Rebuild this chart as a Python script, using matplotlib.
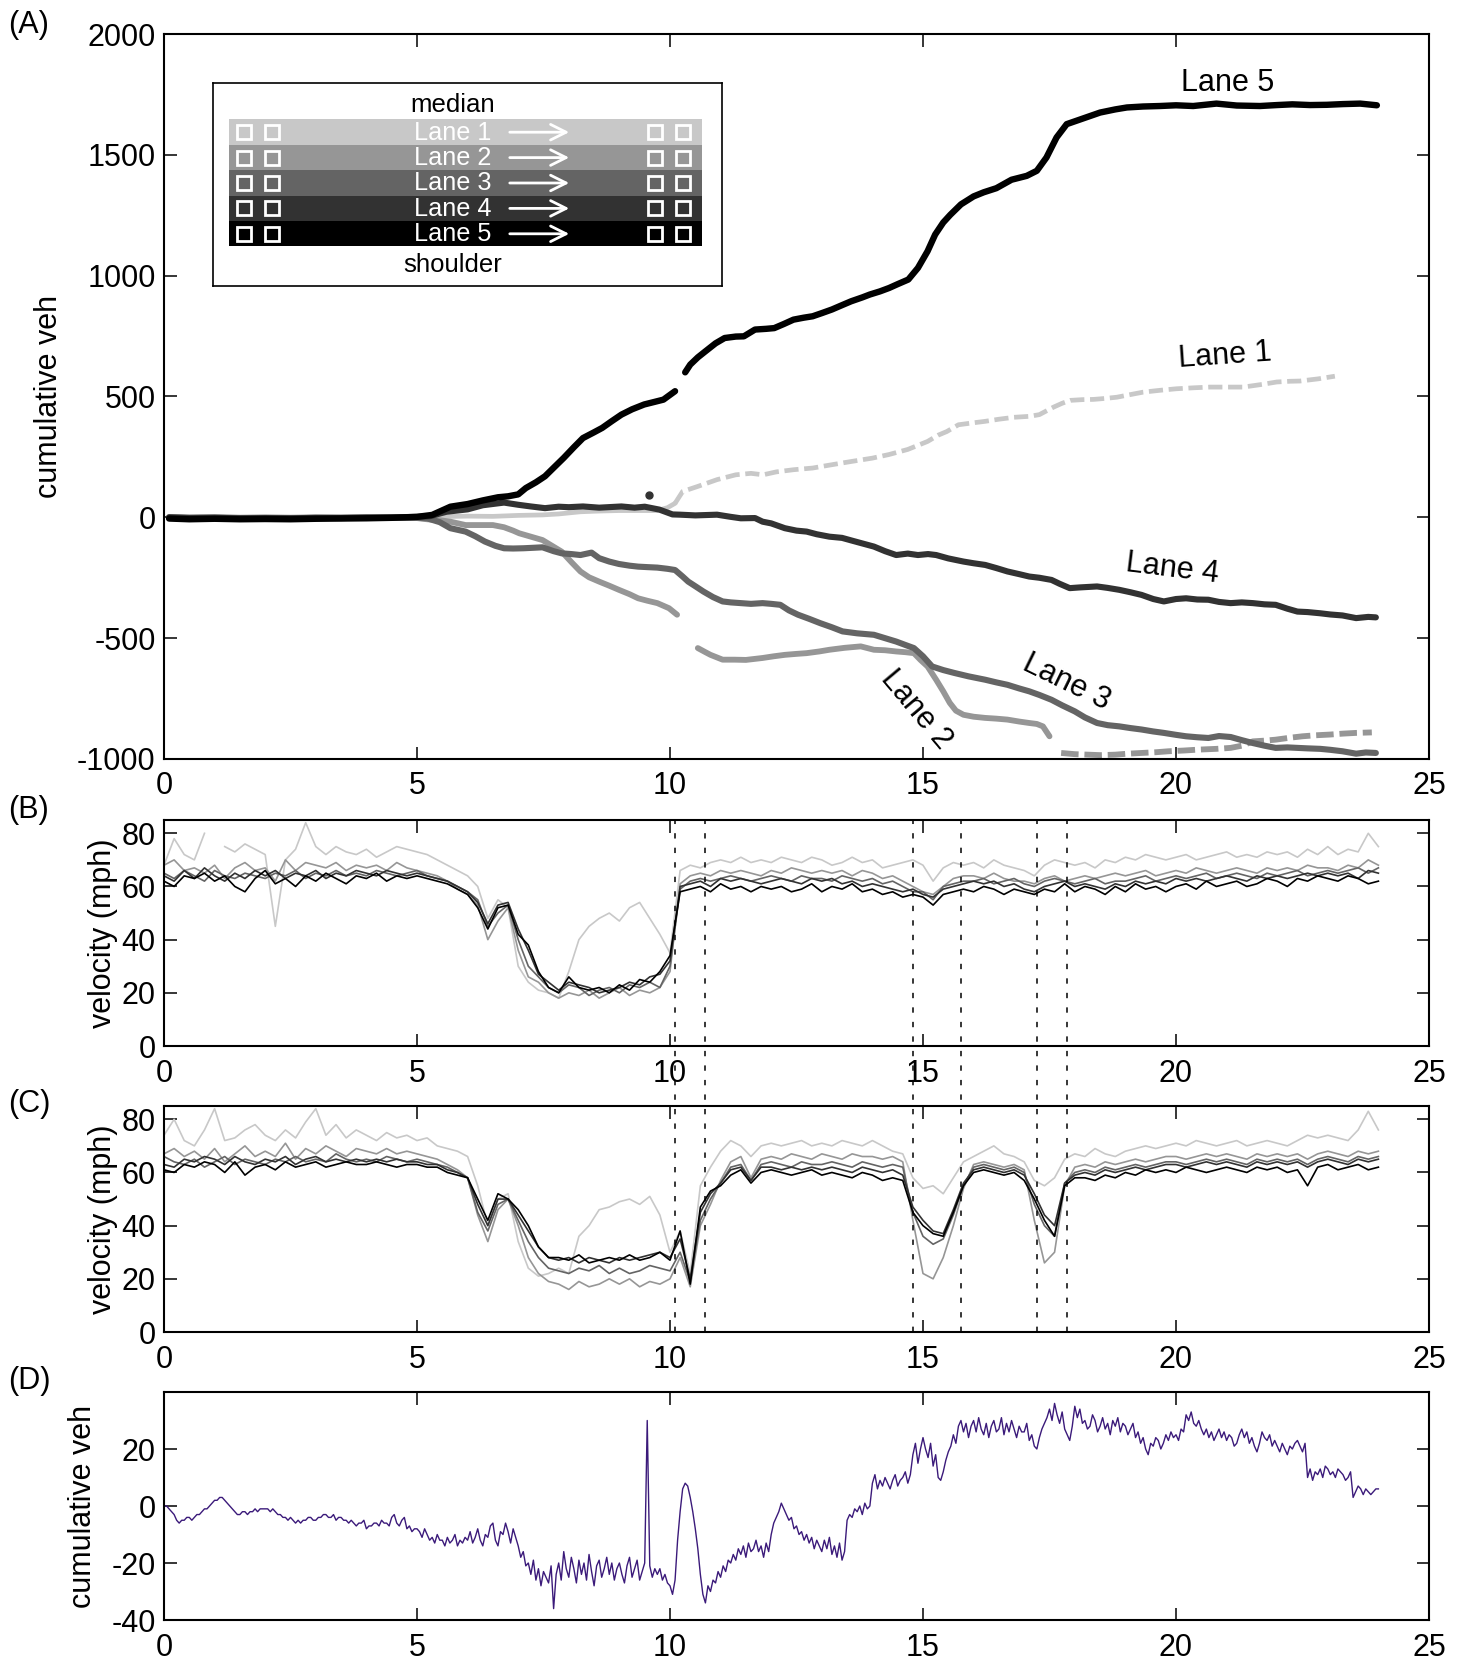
import numpy as np
import matplotlib
matplotlib.use('Agg')
import matplotlib.pyplot as plt
from matplotlib.patches import Rectangle
from matplotlib.transforms import blended_transform_factory
from matplotlib.lines import Line2D

plt.rcParams['font.family'] = ['Liberation Sans', 'DejaVu Sans']
plt.rcParams['font.size'] = 22
plt.rcParams['axes.unicode_minus'] = False

nan = float('nan')

lane_names = ['Lane 1', 'Lane 2', 'Lane 3', 'Lane 4', 'Lane 5']
lane_colors = ['#c8c8c8', '#969696', '#646464', '#323232', '#000000']

# ---------------- Panel A: cumulative vehicles (hour, count) ----------------
cumA_lane1 = [(0.1,0),(0.5,1),(1,0),(1.5,1),(2,0),(2.5,1),(3,0),(3.5,1),(4,0),(4.5,1),(5.0,2),(5.5,3),(6.0,5),(6.5,4),(7.0,8),(7.48,10),(7.8,14),(8.23,23),(8.6,26),(8.99,28),(9.4,28),(9.75,28),(9.95,40),(10.1,58),
              (10.25,107),(10.55,128),(10.93,156),(11.3,176),(11.6,182),(11.84,176),(12.1,188),(12.44,197),(12.82,204),(13.15,216),(13.58,231),(14.0,245),(14.33,260),(14.7,281),(15.09,314),(15.3,340),(15.47,355),(15.7,383),(15.95,390),(16.22,397),(16.5,406),(16.8,414),(17.11,418),(17.3,425),(17.58,456),(17.75,472),(17.91,484),(18.15,487),(18.37,488),(18.6,492),(18.83,497),(19.1,508),(19.35,518),(19.7,526),(20.01,532),(20.35,536),(20.67,539),(21.0,539),(21.33,539),(21.7,550),(21.99,560),(22.25,563),(22.45,564),(22.81,573),(23.14,584)]
cumA_lane2 = [(0.1,0),(0.5,-1),(1,0),(1.5,-2),(2,-1),(2.5,-2),(3,-1),(3.5,-1),(4,0),(4.5,-1),(5.0,-3),(5.2,-8),(5.45,-12),(5.66,-18),(5.96,-32),(6.2,-32),(6.5,-32),(6.72,-41),(6.9,-55),(7.02,-66),(7.25,-80),(7.48,-94),(7.67,-118),(7.86,-142),(8.05,-185),(8.23,-224),(8.4,-248),(8.6,-266),(8.8,-283),(8.99,-300),(9.2,-318),(9.37,-335),(9.55,-345),(9.75,-355),(9.98,-376),(10.14,-403),(10.35,nan),
              (10.55,-541),(10.7,-558),(10.8,-569),(11.04,-589),(11.27,-589),(11.5,-590),(11.83,-582),(12.05,-575),(12.27,-569),(12.5,-565),(12.7,-562),(12.95,-555),(13.15,-548),(13.45,-540),(13.77,-534),(14.03,-548),(14.25,-550),(14.47,-555),(14.65,-558),(14.82,-562),(14.95,-590),(15.09,-617),(15.26,-672),(15.4,-720),(15.53,-768),(15.65,-800),(15.8,-817),(16.0,-825),(16.23,-830),(16.45,-833),(16.67,-837),(16.9,-845),(17.1,-851),(17.25,-855),(17.37,-865),(17.5,-906),(17.6,nan),
              (17.73,-975),(18.0,-980),(18.26,-982),(18.5,-984),(18.8,-982),(19.05,-978),(19.32,-975),(19.6,-972),(19.85,-968),(20.15,-965),(20.46,-961),(20.8,-958),(21.08,-954),(21.3,-945),(21.52,-927),(21.75,-924),(21.97,-920),(22.25,-912),(22.5,-906),(22.75,-902),(23.03,-899),(23.3,-895),(23.56,-892),(23.87,-890)]
cumA_lane3 = [(0.1,0),(0.5,-2),(1,-1),(1.5,-3),(2,-2),(2.5,-3),(3,-2),(3.5,-2),(4,-1),(4.5,-2),(5.0,-2),(5.2,-4),(5.45,-20),(5.66,-45),(5.96,-59),(6.15,-78),(6.34,-100),(6.55,-118),(6.72,-128),(6.9,-129),(7.1,-128),(7.3,-126),(7.48,-124),(7.7,-140),(7.86,-149),(8.05,-152),(8.23,-156),(8.45,-146),(8.6,-169),(8.8,-183),(8.99,-193),(9.2,-200),(9.37,-204),(9.55,-206),(9.75,-208),(9.95,-213),(10.1,-218),(10.25,-245),(10.36,-266),(10.5,-285),(10.66,-307),(10.85,-330),(11.04,-348),(11.2,-352),(11.4,-355),(11.6,-358),(11.83,-355),(12.0,-358),(12.18,-362),(12.35,-385),(12.53,-403),(12.75,-420),(12.97,-438),(13.2,-455),(13.41,-472),(13.7,-480),(14.03,-486),(14.25,-500),(14.47,-514),(14.65,-528),(14.82,-541),(15.0,-575),(15.18,-617),(15.4,-632),(15.62,-644),(15.9,-658),(16.23,-672),(16.45,-683),(16.67,-693),(16.9,-708),(17.1,-720),(17.3,-735),(17.54,-755),(17.75,-778),(18.0,-803),(18.2,-828),(18.44,-851),(18.65,-860),(18.88,-865),(19.1,-872),(19.32,-878),(19.55,-886),(19.76,-892),(20.0,-900),(20.2,-906),(20.42,-910),(20.64,-913),(20.85,-905),(21.08,-909),(21.3,-922),(21.52,-934),(21.75,-945),(21.97,-954),(22.2,-952),(22.4,-954),(22.6,-956),(22.85,-958),(23.05,-962),(23.29,-968),(23.56,-978),(23.75,-973),(23.95,-975)]
cumA_lane4 = [(0.1,0),(0.5,-3),(1,-2),(1.5,-4),(2,-3),(2.5,-4),(3,-2),(3.5,-3),(4,-1),(4.5,0),(5.0,2),(5.26,5),(5.58,23),(6.0,33),(6.3,50),(6.72,61),(7.0,52),(7.25,45),(7.53,38),(7.8,44),(8.0,42),(8.28,45),(8.6,40),(9.04,45),(9.3,40),(9.5,44),(9.79,32),(10.05,12),(10.2,11),(10.5,8),(10.93,11),(11.2,2),(11.4,-4),(11.68,-3),(11.83,-18),(12.0,-25),(12.27,-45),(12.5,-55),(12.7,-59),(12.9,-70),(13.15,-80),(13.4,-85),(13.59,-96),(13.8,-108),(14.03,-121),(14.25,-140),(14.47,-156),(14.7,-150),(14.9,-156),(15.1,-152),(15.26,-156),(15.5,-170),(15.8,-183),(16.0,-190),(16.23,-197),(16.45,-210),(16.67,-224),(16.9,-235),(17.1,-245),(17.3,-250),(17.54,-259),(17.7,-275),(17.9,-293),(18.1,-290),(18.44,-286),(18.65,-292),(18.88,-300),(19.1,-310),(19.32,-321),(19.55,-338),(19.76,-348),(20.0,-338),(20.2,-335),(20.42,-340),(20.64,-341),(20.85,-350),(21.08,-355),(21.3,-352),(21.52,-355),(21.75,-360),(21.97,-362),(22.2,-378),(22.4,-390),(22.6,-392),(22.85,-397),(23.05,-402),(23.29,-406),(23.56,-417),(23.8,-412),(23.95,-414)]
cumA_lane5 = [(0.1,-5),(0.5,-8),(1,-6),(1.5,-8),(2,-7),(2.5,-8),(3,-6),(3.5,-5),(4,-4),(4.5,-2),(5.0,2),(5.3,10),(5.66,44),(6.0,55),(6.3,70),(6.6,83),(6.8,87),(7.0,95),(7.15,121),(7.35,145),(7.53,170),(7.7,205),(7.9,246),(8.1,290),(8.28,328),(8.5,352),(8.66,370),(8.85,398),(9.04,425),(9.25,447),(9.49,467),(9.7,478),(9.87,487),(10.1,522),(10.2,nan),
              (10.3,600),(10.4,632),(10.55,662),(10.7,687),(10.9,720),(11.08,742),(11.3,748),(11.46,749),(11.68,777),(11.9,780),(12.06,783),(12.25,800),(12.44,818),(12.64,826),(12.82,832),(13.0,845),(13.2,860),(13.4,878),(13.58,894),(13.8,910),(13.95,922),(14.15,935),(14.33,949),(14.5,965),(14.71,984),(14.9,1032),(15.09,1101),(15.24,1170),(15.4,1220),(15.54,1252),(15.75,1295),(16.0,1328),(16.2,1345),(16.45,1362),(16.75,1397),(17.05,1413),(17.25,1434),(17.44,1489),(17.64,1572),(17.84,1627),(18.17,1651),(18.5,1675),(18.8,1688),(19.03,1696),(19.35,1700),(19.68,1702),(20.0,1705),(20.34,1702),(20.8,1712),(21.2,1704),(21.66,1702),(22.0,1706),(22.3,1709),(22.65,1706),(22.98,1707),(23.3,1710),(23.64,1712),(23.97,1705)]
cumA_lanes = [cumA_lane1, cumA_lane2, cumA_lane3, cumA_lane4, cumA_lane5]
cumA_stray = (9.59, 91)   # isolated lane-4 point

# ---------------- Panels B and C: lane speeds (mph), every 0.2 h ----------------
vel_hours = np.round(np.arange(0, 24.01, 0.2), 1)

velB_lane1 = [68,78,72,70,80, nan,75,73,76,74, 72,45,70,74,84, 75,72,75,73,72, 74,71,73,75,74, 73,72,70,68,66, 64,60,48,55,52, 30,24,21,20,18, 28,40,45,48,50, 47,52,54,48,42, 35,66,68,67,69, 70,69,71,69,70, 69,71,70,69,71, 70,68,69,71,69, 70,67,68,69,70, 68,62,67,69,68, 69,67,70,68,67, 66,64,68,70,69, 68,69,67,70,69, 71,70,72,71,70, 71,72,70,71,72, 73,71,72,71,73, 72,73,71,74,72, 75,72,74,73,80, 75]
velB_lane2 = [68,70,66,67,65, 68,63,67,69,66, 67,62,70,66,69, 68,67,69,66,68, 67,68,66,69,67, 66,65,64,62,59, 57,53,40,47,52, 36,26,24,20,18, 20,19,21,18,20, 22,19,21,20,22, 28,61,64,65,64, 66,65,66,65,64, 66,65,67,66,65, 66,65,66,64,66, 65,63,64,62,60, 58,57,60,63,64, 64,63,65,63,62, 62,61,63,64,62, 63,64,63,64,65, 64,65,66,64,65, 66,65,67,66,65, 66,67,66,65,67, 66,67,66,68,67, 67,66,68,67,70, 68]
velB_lane3 = [65,63,66,64,62, 66,64,63,65,64, 63,65,64,66,63, 65,64,66,64,65, 64,66,65,64,65, 66,64,63,62,60, 58,55,45,50,53, 40,30,26,22,20, 23,22,19,21,22, 20,23,22,24,22, 30,59,62,63,62, 63,64,63,62,63, 64,63,62,64,63, 63,62,64,63,62, 63,61,62,60,58, 58,55,60,61,62, 62,63,61,62,63, 61,60,62,63,62, 61,62,63,61,62, 62,63,64,62,63, 64,63,64,65,63, 64,65,64,63,65, 64,65,66,64,65, 66,65,66,67,65, 67]
velB_lane4 = [64,62,66,63,67, 64,62,65,63,66, 64,66,63,65,64, 66,63,65,64,66, 65,64,66,65,64, 65,64,63,62,60, 58,54,46,53,54, 44,36,27,24,21, 24,23,22,20,21, 22,24,23,26,27, 32,60,61,62,60, 63,62,63,62,61, 62,63,62,61,63, 62,63,61,62,60, 61,60,59,58,59, 57,56,59,60,61, 62,61,62,60,61, 59,58,60,61,62, 60,61,60,59,61, 60,62,61,62,61, 63,62,63,62,63, 64,63,62,64,63, 64,63,64,65,64, 65,64,65,63,66, 65]
velB_lane5 = [62,60,64,63,65, 62,64,60,58,63, 66,61,63,60,64, 62,65,63,61,64, 63,65,62,64,63, 64,63,62,61,59, 57,52,44,52,53, 42,38,28,22,20, 26,22,21,22,20, 23,21,25,24,28, 34,58,59,60,58, 61,59,60,58,60, 59,60,58,59,61, 58,60,59,61,58, 59,57,58,56,57, 56,53,57,58,59, 58,60,59,57,59, 58,57,59,58,61, 58,60,59,57,60, 58,61,59,60,58, 60,61,59,62,60, 61,62,60,61,63, 62,60,63,62,64, 63,62,64,63,61, 62]
velB_lanes = [velB_lane1, velB_lane2, velB_lane3, velB_lane4, velB_lane5]

velC_lane1 = [74,80,72,70,76, 84,72,73,76,78, 74,72,76,73,79, 84,74,78,73,76, 74,72,75,73,74, 72,73,70,69,68, 66,55,40,50,52, 34,24,21,22,24, 22,36,40,46,47, 49,50,48,51,44, 30,38,22,55,62, 68,72,70,66,70, 71,70,71,72,70, 71,70,72,71,70, 72,70,68,67,58, 54,55,52,58,64, 66,68,70,67,66, 64,57,55,58,65, 67,66,69,67,66, 68,69,70,69,70, 71,70,72,71,70, 71,72,70,71,72, 71,70,72,74,73, 74,73,72,76,83, 76]
velC_lane2 = [67,69,66,68,65, 69,64,67,70,66, 68,66,71,65,69, 67,70,68,66,69, 68,67,69,67,68, 67,66,65,63,61, 58,44,34,46,50, 40,28,22,19,18, 16,19,17,18,20, 18,20,17,19,18, 20,28,17,40,48, 57,64,66,58,65, 66,65,67,66,65, 67,66,65,67,66, 66,65,66,64,42, 22,20,28,40,54, 63,64,63,62,63, 61,42,26,30,55, 62,63,62,64,63, 64,65,64,65,66, 66,65,66,67,66, 67,66,65,67,66, 67,66,67,65,67, 68,67,66,68,67, 68]
velC_lane3 = [66,64,63,65,62, 64,66,63,65,64, 63,65,64,66,64, 65,64,67,65,64, 65,64,66,65,64, 65,64,63,62,60, 58,45,38,48,50, 42,34,28,24,23, 22,24,23,25,22, 24,22,23,25,24, 23,30,19,42,50, 56,62,63,57,63, 64,63,62,64,63, 63,64,63,62,64, 63,62,63,62,45, 36,33,35,44,55, 62,63,62,61,62, 60,48,40,36,56, 60,61,60,62,61, 62,63,62,63,64, 64,63,64,65,64, 65,64,63,65,64, 65,64,65,63,65, 66,65,64,66,65, 66]
velC_lane4 = [63,62,65,64,66, 65,63,66,64,63, 65,64,66,63,65, 66,64,65,64,65, 64,65,64,65,64, 64,63,63,61,60, 58,48,40,50,50, 44,38,32,28,27, 28,26,28,27,26, 28,27,28,29,30, 28,35,20,45,52, 56,61,62,57,62, 62,61,62,61,62, 61,62,61,60,62, 61,60,61,59,47, 42,38,37,46,56, 61,62,61,60,61, 59,52,44,40,56, 59,60,59,61,60, 61,62,61,62,63, 63,62,63,64,63, 64,63,62,64,63, 64,63,64,62,64, 65,64,63,65,64, 65]
velC_lane5 = [61,60,63,62,64, 63,60,64,59,62, 63,61,64,62,63, 64,62,63,64,63, 63,64,63,62,63, 63,62,62,60,59, 58,50,42,52,50, 46,40,32,28,28, 27,29,26,27,28, 27,29,27,28,30, 27,38,18,47,53, 55,59,61,56,60, 61,60,59,60,61, 59,60,59,58,60, 59,57,58,57,45, 40,37,36,45,55, 60,61,60,59,60, 57,50,42,36,55, 58,58,57,59,58, 60,59,61,60,61, 60,62,61,60,61, 62,61,60,62,61, 62,60,61,55,62, 63,61,62,63,61, 62]
velC_lanes = [velC_lane1, velC_lane2, velC_lane3, velC_lane4, velC_lane5]

event_hours = [10.1, 10.7, 14.8, 15.75, 17.25, 17.85]

# ---------------- Panel D: cumulative difference, every 0.05 h ----------------
diff_hours = np.round(np.arange(0, 24.001, 0.05), 2)
diff_vals = [0,0,-1,-2,-3,-5,-6,-5,-5,-4, -4,-5,-4,-3,-3,-2,-1,-1,0,1,
             2,2,3,3,2,1,0,-1,-2,-3, -3,-2,-2,-3,-2,-2,-1,-2,-1,-1,
             -1,-1,-2,-1,-2,-3,-3,-4,-4,-5, -4,-5,-6,-5,-6,-5,-5,-4,-4,-5,
             -5,-4,-4,-3,-3,-4,-4,-3,-5,-4, -4,-5,-5,-6,-5,-6,-7,-6,-6,-5,
             -8,-7,-7,-6,-6,-7,-5,-6,-6,-7, -4,-3,-6,-7,-5,-4,-8,-7,-9,-8,
             -8,-9,-11,-8,-10,-12,-11,-13,-10,-12, -12,-14,-11,-13,-12,-10,-14,-12,-13,-11,
             -12,-9,-13,-11,-8,-12,-14,-10,-11,-7, -6,-12,-14,-9,-10,-6,-9,-13,-8,-11,
             -14,-18,-16,-21,-20,-24,-19,-26,-22,-28, -23,-25,-27,-21,-36,-24,-20,-26,-16,-22,
             -25,-18,-22,-27,-19,-24,-20,-26,-17,-23, -28,-21,-19,-25,-22,-18,-24,-20,-26,-22,
             -20,-24,-27,-21,-18,-25,-22,-19,-26,-23, -20,30,-21,-25,-22,-24,-22,-26,-24,-27,
             -28,-31,-26,-12,-2,6,8,7,3,-2, -8,-15,-24,-31,-34,-28,-30,-26,-27,-23,
             -25,-21,-23,-19,-20,-17,-19,-15,-17,-14, -18,-13,-16,-15,-12,-16,-14,-18,-13,-16,
             -10,-6,-4,-2,1,-1,-3,-5,-4,-8, -7,-10,-9,-12,-10,-13,-11,-15,-12,-14,
             -16,-12,-15,-11,-17,-14,-18,-13,-19,-16, -5,-3,-4,-1,-2,0,-3,1,-1,0,
             8,11,6,9,7,10,8,6,9,11, 7,9,10,12,8,11,18,22,15,20,
             24,20,17,22,14,18,10,9,12,16, 19,21,25,22,28,30,26,29,24,28,
             30,26,31,27,25,29,24,28,30,26, 27,31,25,29,26,30,27,24,28,26,
             26,29,23,25,21,20,24,27,29,31, 34,30,36,32,29,33,27,25,23,28,
             35,31,34,29,30,27,28,32,30,26, 28,31,27,29,25,30,28,31,26,29,
             28,25,27,29,24,26,22,24,20,18, 22,21,24,23,20,22,25,23,26,24,
             25,23,27,26,32,30,33,29,28,30, 27,25,27,24,26,23,25,27,24,26,
             23,25,24,21,22,25,27,24,26,22, 24,21,19,22,26,24,23,25,21,23,
             21,19,22,20,18,21,20,22,23,21, 19,22,10,13,9,12,11,13,10,14,
             13,11,12,10,13,12,11,9,10,12, 3,5,7,6,4,6,5,4,5,6,
             6]
diff_color = '#3b1a7a'

# ---------------- Figure ----------------
W, H = 1466, 1660
fig = plt.figure(figsize=(W / 100, H / 100), dpi=100)

def frac(left, top, right, bottom):
    return [left / W, 1 - bottom / H, (right - left) / W, (bottom - top) / H]

axA = fig.add_axes(frac(164, 34, 1429, 759))
axB = fig.add_axes(frac(164, 820, 1429, 1046))
axC = fig.add_axes(frac(164, 1106, 1429, 1332))
axD = fig.add_axes(frac(164, 1392, 1429, 1620))

def style(ax, ylim, yticks):
    ax.set_xlim(0, 25)
    ax.set_ylim(*ylim)
    ax.set_xticks([0, 5, 10, 15, 20, 25])
    ax.set_yticks(yticks)
    ax.tick_params(direction='in', length=9, width=1.1, top=True, right=True, labelsize=22)
    ax.tick_params(axis='x', pad=9)
    ax.tick_params(axis='y', pad=6)
    for s in ax.spines.values():
        s.set_linewidth(1.5)

# Panel A
style(axA, (-1000, 2000), [-1000, -500, 0, 500, 1000, 1500, 2000])
lane_lw = [3.4, 4.2, 4.4, 4.4, 4.6]
for i, pts in enumerate(cumA_lanes):
    arr = np.array(pts, dtype=float)
    t, v = arr[:, 0], arr[:, 1]
    if i == 0:
        m = t <= 10.1
        axA.plot(t[m], v[m], color=lane_colors[i], lw=lane_lw[i], solid_capstyle='round')
        m2 = t >= 10.1
        axA.plot(t[m2], v[m2], color=lane_colors[i], lw=lane_lw[i], ls=(0, (3, 1.2)))
    elif i == 1:
        m = t <= 17.6
        axA.plot(t[m], v[m], color=lane_colors[i], lw=lane_lw[i], solid_capstyle='round')
        m2 = t >= 17.6
        axA.plot(t[m2], v[m2], color=lane_colors[i], lw=lane_lw[i], ls=(0, (3, 1.0)))
    else:
        axA.plot(t, v, color=lane_colors[i], lw=lane_lw[i], solid_capstyle='round')
axA.plot([cumA_stray[0]], [cumA_stray[1]], 'o', color=lane_colors[3], ms=5)

axA.text(21.03, 1796, 'Lane 5', ha='center', va='center', fontsize=22)
axA.text(20.97, 670, 'Lane 1', ha='center', va='center', fontsize=22, rotation=4, rotation_mode='anchor')
axA.text(19.92, -211, 'Lane 4', ha='center', va='center', fontsize=22, rotation=-7, rotation_mode='anchor')
axA.text(17.83, -683, 'Lane 3', ha='center', va='center', fontsize=22, rotation=-26, rotation_mode='anchor')
axA.text(14.86, -794, 'Lane 2', ha='center', va='center', fontsize=22, rotation=-50, rotation_mode='anchor')
axA.set_ylabel('cumulative veh', fontsize=22)
axA.yaxis.set_label_coords(-0.079, 0.5)

# Legend / lane diagram
axL = fig.add_axes(frac(213, 83, 722, 286))
axL.set_xlim(0, 509)
axL.set_ylim(203, 0)
axL.set_xticks([])
axL.set_yticks([])
for s in axL.spines.values():
    s.set_linewidth(1.2)
stripe_top, stripe_h = 36.5, 25.4
for i, name in enumerate(lane_names):
    top = stripe_top + i * stripe_h
    cy = top + stripe_h / 2
    axL.add_patch(Rectangle((16, top), 473, stripe_h, facecolor=lane_colors[i], edgecolor='none'))
    axL.text(240, cy + 0.5, name, color='white', ha='center', va='center', fontsize=18.2)
    axL.annotate('', xy=(359, cy), xytext=(294, cy),
                 arrowprops=dict(arrowstyle='->', color='white', lw=2.0, mutation_scale=28))
    for x0 in (24, 52, 435, 463.5):
        axL.add_patch(Rectangle((x0, cy - 7), 14, 14, fill=False, edgecolor='white', lw=2.0))
axL.text(240, 22, 'median', ha='center', va='center', fontsize=18.5)
axL.text(240, 182, 'shoulder', ha='center', va='center', fontsize=18.5)

# Panels B, C
for ax, lanes in ((axB, velB_lanes), (axC, velC_lanes)):
    style(ax, (0, 85), [0, 20, 40, 60, 80])
    for i, vals in enumerate(lanes):
        ax.plot(vel_hours, np.array(vals, dtype=float), color=lane_colors[i], lw=1.2)
    ax.set_ylabel('velocity (mph)', fontsize=22)
    ax.yaxis.set_label_coords(-0.036, 0.5)

trans = blended_transform_factory(axB.transData, fig.transFigure)
y_bot = 1 - 1332 / H
y_top = 1 - 820 / H
for h in event_hours:
    fig.add_artist(Line2D([h, h], [y_bot, y_top], transform=trans, color='black',
                          lw=1.1, ls=(0, (3.5, 6))))

# Panel D
style(axD, (-40, 40), [-40, -20, 0, 20])
axD.plot(diff_hours, diff_vals, color=diff_color, lw=1.0)
axD.set_ylabel('cumulative veh', fontsize=22)
axD.yaxis.set_label_coords(-0.052, 0.5)

# Panel letters
for lab, ypx in (('(A)', 25), ('(B)', 810), ('(C)', 1104), ('(D)', 1381)):
    fig.text(8 / W, 1 - ypx / H, lab, ha='left', va='center', fontsize=22)

fig.savefig('out.png', dpi=100)
